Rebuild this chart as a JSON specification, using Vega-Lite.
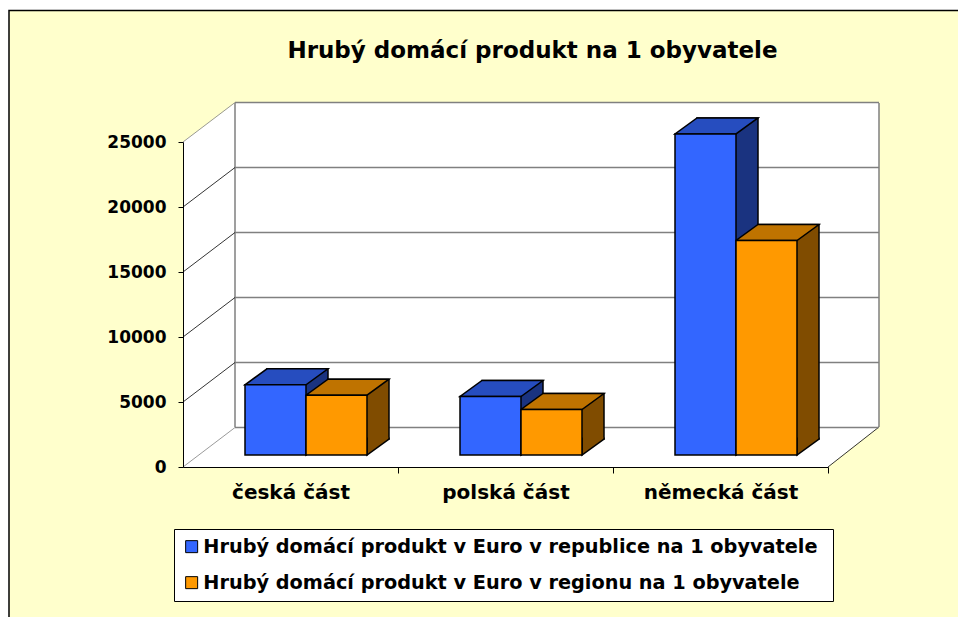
{
  "$schema": "https://vega.github.io/schema/vega-lite/v6.json",
  "width": 645,
  "height": 325,
  "autosize": {"type": "none"},
  "padding": {"left": 183, "top": 142, "right": 130, "bottom": 150},
  "background": "#FFFFCC",
  "title": {
    "text": "Hrubý domácí produkt na 1 obyvatele",
    "font": "DejaVu Sans",
    "fontSize": 23,
    "fontWeight": "bold",
    "color": "black",
    "anchor": "middle",
    "frame": "group",
    "dx": 27,
    "offset": -63
  },
  "config": {"view": {"stroke": null}},
  "data": {
    "values": [
      {"cat": "česká část", "series": "Hrubý domácí produkt v  Euro v republice na 1 obyvatele", "value": 5400},
      {"cat": "polská část", "series": "Hrubý domácí produkt v  Euro v republice na 1 obyvatele", "value": 4500},
      {"cat": "německá část", "series": "Hrubý domácí produkt v  Euro v republice na 1 obyvatele", "value": 24700},
      {"cat": "česká část", "series": "Hrubý domácí produkt v  Euro v regionu na 1 obyvatele", "value": 4600},
      {"cat": "polská část", "series": "Hrubý domácí produkt v  Euro v regionu na 1 obyvatele", "value": 3500},
      {"cat": "německá část", "series": "Hrubý domácí produkt v  Euro v regionu na 1 obyvatele", "value": 16500}
    ]
  },
  "layer": [
    {
      "data": {"values": [{"v": 0}]},
      "mark": {"type": "point", "shape": "M -290.5 -467 L 667.5 -467 L 667.5 -456.5 L -281.5 -456.5 L -281.5 150 L -290.5 150 Z", "size": 4, "filled": true, "fill": "white", "strokeWidth": 0, "opacity": 1},
      "encoding": {
        "x": {"datum": "česká část", "type": "nominal", "title": null, "sort": null, "scale": {"paddingInner": 0.4326, "paddingOuter": 0.2163}},
        "y": {"field": "v", "type": "quantitative", "title": null, "scale": {"domain": [0, 25000], "nice": false}}
      }
    },
    {
      "data": {"values": [{"v": 0}]},
      "mark": {"type": "point", "shape": "M -281.5 150 L -281.5 -456.5 L 667.5 -456.5", "size": 4, "filled": false, "stroke": "black", "strokeWidth": 1.5, "opacity": 1},
      "encoding": {
        "x": {"datum": "česká část", "type": "nominal", "title": null},
        "y": {"field": "v", "type": "quantitative", "title": null}
      }
    },
    {
      "data": {"values": [{"v": 0}]},
      "mark": {"type": "point", "shape": "M -107.5 -325 L -55.5 -364 L 588.5 -364 L 588.5 -40 L 537.5 0 L -107.5 0 Z", "size": 4, "filled": true, "fill": "white", "strokeWidth": 0, "opacity": 1},
      "encoding": {
        "x": {"datum": "česká část", "type": "nominal", "title": null},
        "y": {"field": "v", "type": "quantitative", "title": null}
      }
    },
    {
      "data": {"values": [{"v": 0}]},
      "mark": {"type": "point", "shape": "M -55.5 -364 L -55.5 -40 M 588.5 -364 L 588.5 -40", "size": 4, "filled": false, "stroke": "#808080", "strokeWidth": 1.5, "opacity": 1},
      "encoding": {
        "x": {"datum": "česká část", "type": "nominal", "title": null},
        "y": {"field": "v", "type": "quantitative", "title": null}
      }
    },
    {
      "data": {"values": [{"v": 0}]},
      "mark": {"type": "point", "shape": "M 537.5 0 L 588.5 -40", "size": 4, "filled": false, "stroke": "black", "strokeWidth": 0.8, "opacity": 1},
      "encoding": {
        "x": {"datum": "česká část", "type": "nominal", "title": null},
        "y": {"field": "v", "type": "quantitative", "title": null}
      }
    },
    {
      "data": {"values": [{"v": 0}, {"v": 5000}, {"v": 10000}, {"v": 15000}, {"v": 20000}, {"v": 25000}]},
      "mark": {"type": "point", "shape": "M -55.5 -39.5 L 588.5 -39.5", "size": 4, "filled": false, "stroke": "#808080", "strokeWidth": 1.5, "opacity": 1},
      "encoding": {
        "x": {"datum": "česká část", "type": "nominal", "title": null},
        "y": {"field": "v", "type": "quantitative", "title": null}
      }
    },
    {
      "data": {"values": [{"v": 0}, {"v": 5000}, {"v": 10000}, {"v": 15000}, {"v": 20000}, {"v": 25000}]},
      "mark": {"type": "point", "shape": "M -107.5 0 L -55.5 -39.5", "size": 4, "filled": false, "strokeWidth": 0.8, "opacity": 1},
      "encoding": {
        "x": {"datum": "česká část", "type": "nominal", "title": null},
        "y": {"field": "v", "type": "quantitative", "title": null},
        "stroke": {"condition": {"test": "datum.v == 0 || datum.v == 25000", "value": "#808080"}, "value": "black"}
      }
    },
    {
      "transform": [{"filter": {"field": "series", "equal": "Hrubý domácí produkt v  Euro v republice na 1 obyvatele"}}],
      "mark": {"type": "bar", "width": 61, "xOffset": 7, "yOffset": -28, "y2Offset": -28, "fill": "#1A3380", "stroke": "black", "strokeWidth": 1.5},
      "encoding": {
        "x": {"field": "cat", "type": "nominal", "sort": null, "title": null},
        "y": {"field": "value", "type": "quantitative", "title": null}
      }
    },
    {
      "transform": [{"filter": {"field": "series", "equal": "Hrubý domácí produkt v  Euro v regionu na 1 obyvatele"}}],
      "mark": {"type": "bar", "width": 61, "xOffset": 68, "yOffset": -28, "y2Offset": -28, "fill": "#804C00", "stroke": "black", "strokeWidth": 1.5},
      "encoding": {
        "x": {"field": "cat", "type": "nominal", "sort": null, "title": null},
        "y": {"field": "value", "type": "quantitative", "title": null}
      }
    },
    {
      "transform": [{"filter": {"field": "series", "equal": "Hrubý domácí produkt v  Euro v republice na 1 obyvatele"}}],
      "mark": {"type": "point", "shape": "M -30.5 0 L 30.5 0 L 52.5 -16 L -8.5 -16 Z", "size": 4, "filled": true, "fill": "#264DBF", "opacity": 1, "stroke": "black", "strokeWidth": 1.5, "xOffset": -15, "yOffset": -12},
      "encoding": {
        "x": {"field": "cat", "type": "nominal", "sort": null, "title": null},
        "y": {"field": "value", "type": "quantitative", "title": null}
      }
    },
    {
      "transform": [{"filter": {"field": "series", "equal": "Hrubý domácí produkt v  Euro v regionu na 1 obyvatele"}}],
      "mark": {"type": "point", "shape": "M -30.5 0 L 30.5 0 L 52.5 -16 L -8.5 -16 Z", "size": 4, "filled": true, "fill": "#BF7300", "opacity": 1, "stroke": "black", "strokeWidth": 1.5, "xOffset": 46, "yOffset": -12},
      "encoding": {
        "x": {"field": "cat", "type": "nominal", "sort": null, "title": null},
        "y": {"field": "value", "type": "quantitative", "title": null}
      }
    },
    {
      "transform": [{"filter": {"field": "series", "equal": "Hrubý domácí produkt v  Euro v republice na 1 obyvatele"}}],
      "mark": {"type": "point", "shape": "M 52.5 -17.5 L 52.5 -16 L 30.5 0 L 30.5 -17.5", "size": 4, "filled": true, "fill": "#1A3380", "opacity": 1, "stroke": "black", "strokeWidth": 1.5, "xOffset": -15, "yOffset": -12},
      "encoding": {
        "x": {"field": "cat", "type": "nominal", "sort": null, "title": null},
        "y": {"datum": 0, "type": "quantitative", "title": null}
      }
    },
    {
      "transform": [{"filter": {"field": "series", "equal": "Hrubý domácí produkt v  Euro v regionu na 1 obyvatele"}}],
      "mark": {"type": "point", "shape": "M 52.5 -17.5 L 52.5 -16 L 30.5 0 L 30.5 -17.5", "size": 4, "filled": true, "fill": "#804C00", "opacity": 1, "stroke": "black", "strokeWidth": 1.5, "xOffset": 46, "yOffset": -12},
      "encoding": {
        "x": {"field": "cat", "type": "nominal", "sort": null, "title": null},
        "y": {"datum": 0, "type": "quantitative", "title": null}
      }
    },
    {
      "transform": [{"filter": {"field": "series", "equal": "Hrubý domácí produkt v  Euro v republice na 1 obyvatele"}}],
      "mark": {"type": "bar", "width": 61, "xOffset": -15, "yOffset": -12, "y2Offset": -12, "stroke": "black", "strokeWidth": 1.5},
      "encoding": {
        "x": {
          "field": "cat", "type": "nominal", "sort": null, "title": null,
          "axis": {"labelFont": "DejaVu Sans", "labelFontWeight": "bold", "labelFontSize": 20, "labelColor": "black", "labelPadding": 19, "labelAngle": 0, "labelAlign": "center", "bandPosition": 1, "tickOffset": 46.5, "labelOffset": -46.5, "tickSize": 6, "tickColor": "black", "domainColor": "black", "zindex": 1}
        },
        "y": {
          "field": "value", "type": "quantitative", "title": null,
          "axis": {"values": [0, 5000, 10000, 15000, 20000, 25000], "format": "d", "grid": false, "labelFont": "DejaVu Sans", "labelFontWeight": "bold", "labelFontSize": 17, "labelColor": "black", "tickSize": 5, "labelPadding": 12, "tickColor": "black", "domainColor": "black", "zindex": 1}
        },
        "color": {
          "field": "series", "type": "nominal", "sort": null,
          "scale": {"domain": ["Hrubý domácí produkt v  Euro v republice na 1 obyvatele", "Hrubý domácí produkt v  Euro v regionu na 1 obyvatele"], "range": ["#3366FF", "#FF9900"]},
          "legend": {"orient": "none", "legendX": -9, "legendY": 387, "direction": "vertical", "title": null, "symbolType": "square", "symbolSize": 144, "symbolStrokeColor": "black", "symbolStrokeWidth": 1, "labelFont": "DejaVu Sans", "labelFontWeight": "bold", "labelFontSize": 19.3, "labelColor": "black", "labelLimit": 0, "labelOffset": 2, "rowPadding": 16, "padding": 8, "strokeColor": "black", "fillColor": "white"}
        }
      }
    },
    {
      "transform": [{"filter": {"field": "series", "equal": "Hrubý domácí produkt v  Euro v regionu na 1 obyvatele"}}],
      "mark": {"type": "bar", "width": 61, "xOffset": 46, "yOffset": -12, "y2Offset": -12, "stroke": "black", "strokeWidth": 1.5},
      "encoding": {
        "x": {"field": "cat", "type": "nominal", "sort": null, "title": null},
        "y": {"field": "value", "type": "quantitative", "title": null},
        "color": {
          "field": "series", "type": "nominal", "sort": null,
          "scale": {"domain": ["Hrubý domácí produkt v  Euro v republice na 1 obyvatele", "Hrubý domácí produkt v  Euro v regionu na 1 obyvatele"], "range": ["#3366FF", "#FF9900"]}
        }
      }
    }
  ]
}
